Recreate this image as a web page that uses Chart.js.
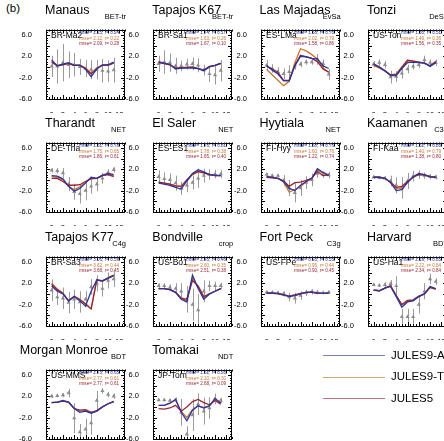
<!DOCTYPE html>
<html>
<head>
<meta charset="utf-8">
<script src="https://cdn.jsdelivr.net/npm/chart.js@4.4.1/dist/chart.umd.min.js"></script>
<style>
  body { margin: 0; background: #fff; width: 444px; height: 441px; overflow: hidden; position: relative;
         font-family: "Liberation Sans", Arial, sans-serif; }
  .panel { position: absolute; }
  .title { position: absolute; font-size: 12.5px; color: #000; white-space: nowrap; line-height: 1; }
  .pft { position: absolute; font-size: 7.5px; color: #000; white-space: nowrap; line-height: 1; text-align: right; }
  .leg { position: absolute; height: 0; border-top: 1px solid; }
  .legtxt { position: absolute; font-size: 11.5px; white-space: nowrap; line-height: 1; }
</style>
</head>
<body>
<div class="title" style="left:6px;top:3px;font-size:11.5px">(b)</div>

<script>
// months on the x axis, tick labels
const months = [0, 1, 2, 3, 4, 5, 6, 7, 8, 9, 10, 11];
const xTicks = [0, 2, 4, 6, 8, 10, 12];
const yTicks = [-6, -4, -2, 0, 2, 4, 6];

const siteNames = ['Manaus', 'Tapajos K67', 'Las Majadas', 'Tonzi', 'Tharandt', 'El Saler', 'Hyytiala', 'Kaamanen',
                   'Tapajos K77', 'Bondville', 'Fort Peck', 'Harvard', 'Morgan Monroe', 'Tomakai'];
const siteCodes = ['BR-Ma2', 'BR-Sa1', 'ES-LMa', 'US-Ton', 'DE-Tha', 'ES-ES1', 'FI-Hyy', 'FI-Kaa',
                   'BR-Sa3', 'US-Bo1', 'US-FPe', 'US-Ha1', 'US-MMS', 'JP-Tom'];
const sitePft = ['BET-tr', 'BET-tr', 'EvSa', 'DeSa', 'NET', 'NET', 'NET', 'C3g',
                 'C4g', 'crop', 'C3g', 'BDT', 'BDT', 'NDT'];
const modelNames = ['JULES9-AI', 'JULES9-TI', 'JULES5'];

// rmse / r text per site, in model order
const rmseAI = ['2.25', '1.74', '1.58', '1.30', '1.61', '1.76', '1.68', '1.52', '3.06', '2.45', '0.93', '2.19', '2.73', '1.62'];
const rmseTI = ['2.12', '1.63', '2.02', '1.49', '1.75', '1.78', '1.60', '1.40', '3.62', '2.60', '0.95', '2.22', '2.77', '2.10'];
const rmse5  = ['2.09', '1.67', '1.58', '1.56', '1.86', '1.65', '1.22', '1.38', '3.68', '2.51', '0.90', '2.34', '2.77', '2.68'];
const corrAI = ['0.24', '0.17', '0.70', '0.51', '0.78', '0.81', '0.76', '0.80', '0.59', '0.40', '0.55', '0.85', '0.65', '0.20'];
const corrTI = ['0.22', '0.26', '0.79', '0.36', '0.65', '0.38', '0.76', '0.79', '0.44', '0.35', '0.44', '0.84', '0.61', '0.30'];
const corr5  = ['0.28', '0.10', '0.86', '0.35', '0.61', '0.40', '0.74', '0.80', '0.45', '0.38', '0.45', '0.84', '0.61', '0.09'];

// Manaus
const manausAI  = [1.3, 0.2, 0.5, 0.8, 0.3, 0.3, -0.4, -1.8, -0.4, 0.4, 0.4, 0.9];
const manausTI  = [1.0, 0.3, 0.5, 0.7, 0.4, 0.4, -0.2, -1.2, -0.2, 0.4, 0.4, 0.8];
const manausJ5  = [0.9, 0.2, 0.4, 0.6, 0.3, 0.3, -0.3, -1.3, -0.3, 0.3, 0.3, 0.7];
const manausObs = [0.1, 0.1, 0.8, 0.4, 0.4, 0.0, -0.3, -0.5, -0.5, -0.7, -0.8, -0.6];
const manausErr = [2.0, 3.2, 3.5, 2.5, 2.2, 1.5, 1.6, 1.8, 1.8, 2.2, 2.0, 2.3];
// Tapajos K67
const k67AI  = [1.0, 0.7, 0.5, -0.4, -0.2, -0.2, -0.2, -0.3, -0.7, 0.0, 0.3, 0.7];
const k67TI  = [0.8, 0.6, 0.4, -0.3, -0.1, -0.1, -0.1, -0.3, -0.6, 0.0, 0.3, 0.6];
const k67J5  = [0.8, 0.6, 0.4, -0.2, -0.2, -0.1, 0.0, -0.3, -0.6, 0.1, 0.3, 0.6];
const k67Obs = [0.6, 0.9, 0.8, 0.2, 0.2, 0.5, 0.6, 0.3, -0.6, -1.3, -1.5, -0.7];
const k67Err = [1.5, 2.2, 1.7, 1.5, 1.0, 1.0, 1.2, 1.3, 1.0, 1.5, 1.8, 2.0];
// Las Majadas
const lmaAI  = [0.2, -0.6, -1.3, -2.6, -2.6, 0.2, 2.0, 1.9, 1.6, 1.5, 0.2, -0.3];
const lmaTI  = [-0.5, -1.5, -2.5, -3.5, -2.7, 0.8, 3.4, 3.0, 2.3, 1.5, -0.2, -1.0];
const lmaJ5  = [0.2, -0.4, -1.0, -2.5, -2.5, 0.3, 2.2, 1.9, 1.6, 1.0, -0.4, -1.0];
const lmaObs = [0.3, -0.3, -0.9, -1.3, -0.9, 0.3, 0.5, 0.9, 0.9, 1.4, 0.6, -1.4];
const lmaErr = [1.0, 0.8, 0.8, 1.0, 1.2, 0.8, 0.5, 0.5, 0.5, 1.0, 0.8, 1.0];
// Tonzi
const tonAI  = [0.6, 0.0, -0.7, -1.6, -1.6, -0.3, 0.8, 0.9, 0.8, 0.7, 0.1, 0.8];
const tonTI  = [0.3, -0.2, -0.8, -1.5, -1.3, 0.0, 1.3, 1.1, 0.9, 0.7, 0.2, 0.8];
const tonJ5  = [0.4, -0.1, -0.7, -1.5, -1.5, -0.1, 1.2, 1.1, 0.9, 0.7, 0.2, 1.0];
const tonObs = [0.5, 0.8, 0.4, -1.9, -1.8, -1.2, -0.4, 0.1, 0.4, 1.3, 0.8, 0.8];
const tonErr = [0.6, 0.6, 0.7, 1.2, 1.0, 1.0, 0.8, 0.6, 0.6, 0.8, 0.6, 0.6];
// Tharandt
const thaAI  = [0.8, 0.7, 0.2, -1.2, -2.1, -1.6, -0.6, 0.5, 0.3, 0.9, 1.2, 1.0];
const thaTI  = [0.6, 0.5, 0.0, -1.2, -1.8, -1.3, -0.4, 0.4, 0.3, 0.8, 1.1, 0.8];
const thaJ5  = [0.3, 0.3, -0.3, -1.0, -1.0, -0.9, -0.3, 0.2, 0.3, 0.8, 1.0, 0.6];
const thaObs = [1.8, 1.7, 1.3, -0.8, -2.2, -2.6, -2.0, -1.2, -0.8, 0.3, 1.4, 1.9];
const thaErr = [0.4, 0.5, 0.9, 1.3, 1.5, 1.8, 1.8, 1.4, 1.3, 1.0, 0.6, 0.5];
// El Saler
const es1AI  = [-0.6, -0.8, -1.0, -1.4, -1.7, -0.2, 1.2, 1.9, 1.5, 1.0, 0.9, 0.8];
const es1TI  = [-0.4, -0.6, -0.8, -1.1, -1.2, 0.0, 1.0, 1.5, 1.3, 1.0, 0.8, 0.8];
const es1J5  = [-0.4, -0.6, -0.8, -1.1, -1.2, 0.0, 1.1, 1.6, 1.3, 1.0, 0.8, 0.8];
const es1Obs = [0.6, 0.2, 0.0, -0.6, -1.6, -1.0, -0.5, 0.3, 0.8, 1.0, 1.1, 1.1];
const es1Err = [1.2, 1.2, 1.2, 1.4, 1.2, 1.3, 1.3, 1.8, 1.3, 1.0, 0.8, 0.8];
// Hyytiala
const hyyAI  = [0.5, 0.4, 0.3, -0.3, -1.6, -2.0, -1.0, -0.3, 0.3, 2.1, 1.4, 0.9];
const hyyTI  = [0.6, 0.5, 0.3, -0.4, -2.3, -1.8, -1.2, -0.4, 0.3, 1.9, 1.2, 0.9];
const hyyJ5  = [0.6, 0.5, 0.3, -0.2, -1.2, -0.5, -0.4, -0.1, 0.3, 1.6, 0.8, 0.9];
const hyyObs = [1.0, 0.8, 0.8, -0.1, -1.5, -2.4, -1.5, -0.5, 0.0, 1.2, 1.0, 0.9];
const hyyErr = [0.3, 0.3, 0.3, 1.0, 1.5, 1.8, 1.5, 1.2, 1.2, 0.8, 0.6, 0.6];
// Kaamanen
const kaaAI  = [0.5, 0.5, 0.3, -0.5, -2.0, -1.8, -0.5, 0.6, 1.2, 1.0, 0.6, 0.5];
const kaaTI  = [0.5, 0.5, 0.3, -0.5, -1.6, -1.5, -0.4, 0.6, 1.1, 0.9, 0.6, 0.5];
const kaaJ5  = [0.5, 0.5, 0.3, -0.4, -1.4, -1.2, -0.3, 0.5, 1.0, 0.9, 0.6, 0.5];
const kaaObs = [0.5, 0.4, 0.3, -0.2, -1.0, -1.5, -0.2, 0.7, 1.0, 0.8, 0.6, 0.5];
const kaaErr = [0.3, 0.3, 0.4, 1.0, 1.5, 2.0, 1.5, 1.0, 0.8, 0.6, 0.5, 0.4];
// Tapajos K77
const k77AI  = [1.5, 0.5, 0.0, -1.3, -0.5, -1.3, -2.3, 0.5, 2.6, 2.5, 2.9, 3.4];
const k77TI  = [2.0, 0.9, 0.2, -1.3, -0.4, -1.0, -1.8, -2.8, 2.7, 2.3, 3.0, 3.5];
const k77J5  = [1.8, 0.8, 0.1, -1.3, -0.5, -1.1, -1.9, -2.8, 2.6, 2.4, 3.0, 3.5];
const k77Obs = [0.7, -0.6, -0.8, -1.6, -1.0, -1.5, -1.0, 1.3, 2.0, 1.0, 2.5, 2.8];
const k77Err = [2.0, 1.5, 2.0, 2.0, 1.8, 2.0, 1.5, 1.5, 1.5, 1.5, 1.5, 1.5];
// Bondville
const bo1AI  = [1.0, 1.0, 0.8, 0.3, -1.0, -1.5, 3.5, 1.0, -1.0, 0.0, 0.5, 1.0];
const bo1TI  = [1.0, 1.0, 0.8, 0.3, -0.8, -1.2, 3.0, 1.2, -0.8, 0.0, 0.5, 1.0];
const bo1J5  = [1.0, 1.0, 0.8, 0.3, -0.8, -1.0, 2.5, 1.5, -0.5, 0.0, 0.5, 1.0];
const bo1Obs = [1.5, 1.5, 1.2, 1.0, 0.5, -1.0, -2.0, -3.0, 0.5, 1.5, 1.5, 1.5];
const bo1Err = [0.5, 0.5, 0.6, 1.0, 1.5, 2.5, 3.0, 3.0, 2.0, 1.0, 0.8, 0.6];
// Fort Peck
const fpeAI  = [0.2, 0.2, 0.1, -0.2, -0.5, -0.3, 0.0, 0.3, 0.4, 0.2, 0.1, 0.2];
const fpeTI  = [0.2, 0.2, 0.1, -0.1, -0.4, -0.2, 0.0, 0.3, 0.3, 0.2, 0.1, 0.2];
const fpeJ5  = [0.1, 0.1, 0.0, -0.2, -0.4, -0.2, 0.1, 0.3, 0.3, 0.1, 0.1, 0.1];
const fpeObs = [0.3, 0.3, 0.2, 0.0, -0.6, -0.8, -0.3, 0.2, 0.4, 0.3, 0.2, 0.3];
const fpeErr = [0.3, 0.3, 0.3, 0.5, 0.8, 1.0, 0.8, 0.6, 0.5, 0.4, 0.3, 0.3];
// Harvard
const ha1AI  = [0.7, 0.6, 1.1, 1.4, -0.5, -2.5, -1.5, -1.3, -0.5, 0.0, 1.4, 1.0];
const ha1TI  = [0.7, 0.6, 1.1, 1.5, -0.3, -2.1, -1.3, -1.2, -0.5, 0.0, 1.3, 0.9];
const ha1J5  = [0.7, 0.6, 1.1, 1.5, -0.3, -2.0, -1.2, -1.1, -0.4, 0.0, 1.2, 0.9];
const ha1Obs = [1.7, 1.6, 1.7, 1.9, 1.5, -4.3, -4.3, -4.3, -2.0, 0.5, 2.8, 2.3];
const ha1Err = [0.3, 0.3, 0.5, 0.7, 1.8, 1.5, 1.5, 1.5, 1.7, 1.5, 1.0, 0.6];
// Morgan Monroe
const mmsAI  = [0.8, 0.9, 1.2, 0.9, -0.3, -1.0, -0.8, -1.2, -0.8, 0.0, 0.6, 1.0];
const mmsTI  = [0.8, 0.9, 1.1, 0.9, -0.3, -0.8, -0.7, -1.1, -0.8, 0.0, 0.6, 1.0];
const mmsJ5  = [0.8, 0.9, 1.1, 0.9, -0.3, -0.6, -0.5, -1.0, -0.7, 0.0, 0.6, 1.0];
const mmsObs = [2.0, 2.1, 2.2, 2.6, -2.1, -4.7, -4.2, -3.0, 1.2, 3.0, 2.3, 2.0];
const mmsErr = [0.3, 0.3, 0.4, 0.8, 2.8, 1.5, 2.0, 2.2, 1.8, 0.5, 0.5, 0.5];
// Tomakai
const tomAI  = [0.3, 0.3, 0.7, 1.4, -1.0, -2.6, -0.6, 0.2, -0.2, 0.2, 1.6, 0.7];
const tomTI  = [0.3, 0.3, 0.7, 1.3, -0.8, -2.0, -0.5, 0.2, -0.1, 0.2, 1.4, 0.8];
const tomJ5  = [-0.3, -0.4, -0.2, 0.3, -0.8, 0.0, 1.0, 1.4, 0.8, 0.4, 1.2, 0.5];
const tomObs = [1.3, 1.3, 1.2, 1.3, -1.0, -5.1, -1.5, 0.5, -0.8, -0.2, 1.5, 1.2];
const tomErr = [0.2, 0.2, 0.3, 0.5, 2.5, 1.5, 3.0, 2.0, 2.5, 2.0, 1.0, 0.5];

const seriesAI  = [manausAI, k67AI, lmaAI, tonAI, thaAI, es1AI, hyyAI, kaaAI, k77AI, bo1AI, fpeAI, ha1AI, mmsAI, tomAI];
const seriesTI  = [manausTI, k67TI, lmaTI, tonTI, thaTI, es1TI, hyyTI, kaaTI, k77TI, bo1TI, fpeTI, ha1TI, mmsTI, tomTI];
const series5   = [manausJ5, k67J5, lmaJ5, tonJ5, thaJ5, es1J5, hyyJ5, kaaJ5, k77J5, bo1J5, fpeJ5, ha1J5, mmsJ5, tomJ5];
const seriesObs = [manausObs, k67Obs, lmaObs, tonObs, thaObs, es1Obs, hyyObs, kaaObs, k77Obs, bo1Obs, fpeObs, ha1Obs, mmsObs, tomObs];
const seriesErr = [manausErr, k67Err, lmaErr, tonErr, thaErr, es1Err, hyyErr, kaaErr, k77Err, bo1Err, fpeErr, ha1Err, mmsErr, tomErr];

const colAI = '#2b35a0';
const colTI = '#c8772e';
const col5  = '#9a2435';
const colObs = '#8c8c8c';

Chart.defaults.font.family = '"Liberation Sans", Arial, sans-serif';
Chart.defaults.color = '#000';

// frame, inward ticks, error bars and the text in the box
const panelDecor = {
  id: 'panelDecor',
  beforeDatasetsDraw(chart, args, opts) {
    const ctx = chart.ctx, xs = chart.scales.x, ys = chart.scales.y, a = chart.chartArea;
    ctx.save();
    ctx.beginPath();
    ctx.rect(a.left, a.top, a.right - a.left, a.bottom - a.top);
    ctx.clip();
    ctx.strokeStyle = '#9a9a9a';
    ctx.lineWidth = 1;
    opts.obs.forEach((v, k) => {
      const px = Math.round(xs.getPixelForValue(months[k])) + 0.5;
      ctx.beginPath();
      ctx.moveTo(px, ys.getPixelForValue(v - opts.err[k]));
      ctx.lineTo(px, ys.getPixelForValue(v + opts.err[k]));
      ctx.stroke();
    });
    ctx.restore();
  },
  afterDraw(chart, args, opts) {
    const ctx = chart.ctx, xs = chart.scales.x, ys = chart.scales.y, a = chart.chartArea;
    ctx.save();
    ctx.strokeStyle = '#000';
    ctx.lineWidth = 1;
    ctx.strokeRect(Math.round(a.left) + 0.5, Math.round(a.top) + 0.5,
                   Math.round(a.right - a.left) - 1, Math.round(a.bottom - a.top) - 1);
    ctx.beginPath();
    for (let v = -1; v <= 13; v += 0.5) {
      const px = Math.round(xs.getPixelForValue(v)) + 0.5;
      const len = xTicks.includes(v) ? 4 : 2;
      ctx.moveTo(px, a.bottom); ctx.lineTo(px, a.bottom - len);
      ctx.moveTo(px, a.top); ctx.lineTo(px, a.top + len);
    }
    for (let v = -6; v <= 7; v += 0.5) {
      const py = Math.round(ys.getPixelForValue(v)) + 0.5;
      const len = yTicks.includes(v) ? 4 : 2;
      ctx.moveTo(a.left, py); ctx.lineTo(a.left + len, py);
      ctx.moveTo(a.right, py); ctx.lineTo(a.right - len, py);
    }
    ctx.stroke();
    ctx.fillStyle = '#000';
    ctx.textBaseline = 'middle';
    ctx.font = '8.5px "Liberation Sans", Arial, sans-serif';
    ctx.fillText(opts.code, a.left + 5, a.top + 6);
    ctx.font = '4.6px "Liberation Sans", Arial, sans-serif';
    opts.stats.forEach((s, k) => {
      ctx.fillStyle = [colAI, colTI, col5][k];
      ctx.fillText(s, a.left + 33, a.top + 3.5 + k * 5.5);
    });
    ctx.restore();
  }
};

const boxW = 79, boxH = 78, padL = 28, padB = 14;

siteNames.forEach((name, i) => {
  const col = i % 4, row = Math.floor(i / 4);
  const boxL = 46 + 107.3 * col, boxT = 21 + 113.3 * row;

  const wrap = document.createElement('div');
  wrap.className = 'panel';
  wrap.style.left = (boxL - padL) + 'px';
  wrap.style.top = (boxT - 2) + 'px';
  wrap.style.width = (boxW + padL + 4) + 'px';
  wrap.style.height = (boxH + 2 + padB) + 'px';
  const cv = document.createElement('canvas');
  wrap.appendChild(cv);
  document.body.appendChild(wrap);

  // type label, right-aligned at the box's right edge
  const p = document.createElement('div');
  p.className = 'pft';
  p.textContent = sitePft[i];
  p.style.left = (boxL + boxW + 1 - 54) + 'px';
  p.style.width = '54px';
  p.style.top = (boxT - 8) + 'px';
  document.body.appendChild(p);

  // a title wider than the box starts further left
  const t = document.createElement('div');
  t.className = 'title';
  t.textContent = name;
  document.body.appendChild(t);
  const tw = t.getBoundingClientRect().width;
  const shift = tw > boxW ? boxW - 16 - tw : 0;
  t.style.left = (boxL - 1 + shift) + 'px';
  t.style.top = (boxT - 17) + 'px';

  const pts = arr => months.map((m, k) => ({ x: m, y: arr[k] }));
  const line = (label, arr, color, order) => ({
    label, data: pts(arr), borderColor: color, borderWidth: 1.3, pointRadius: 0,
    tension: 0, fill: false, order
  });

  new Chart(cv, {
    type: 'line',
    data: {
      datasets: [
        line(modelNames[0], seriesAI[i], colAI, 1),
        line(modelNames[1], seriesTI[i], colTI, 3),
        line(modelNames[2], series5[i], col5, 2),
        {
          label: 'obs', data: pts(seriesObs[i]), showLine: false, pointStyle: 'triangle',
          pointRadius: 2.4, backgroundColor: colObs, borderColor: colObs, borderWidth: 0, order: 4
        }
      ]
    },
    options: {
      animation: false,
      responsive: true,
      maintainAspectRatio: false,
      layout: { padding: { left: 0, top: 2, right: 4, bottom: 0 } },
      plugins: {
        legend: { display: false },
        tooltip: { enabled: false },
        panelDecor: {
          obs: seriesObs[i], err: seriesErr[i], code: siteCodes[i],
          stats: [
            'rmse= ' + rmseAI[i] + ', r= ' + corrAI[i],
            'rmse= ' + rmseTI[i] + ', r= ' + corrTI[i],
            'rmse= ' + rmse5[i] + ', r= ' + corr5[i]
          ]
        }
      },
      scales: {
        x: {
          type: 'linear', min: -1, max: 13,
          grid: { display: false }, border: { display: false },
          afterBuildTicks: s => { s.ticks = xTicks.map(v => ({ value: v })); },
          afterFit: s => { s.height = padB; },
          ticks: { font: { size: 7.5 }, padding: 3, maxRotation: 0, autoSkip: false }
        },
        y: {
          min: -6, max: 7,
          grid: { display: false }, border: { display: false },
          afterBuildTicks: s => { s.ticks = yTicks.map(v => ({ value: v })); },
          afterFit: s => { s.width = padL; },
          ticks: { font: { size: 7.5 }, padding: 6, callback: v => v.toFixed(1) }
        }
      }
    },
    plugins: [panelDecor]
  });
});

// legend at lower right
const legColors = ['#7d7fbf', '#d2a676', '#c07482'];
modelNames.forEach((m, k) => {
  const l = document.createElement('div');
  l.className = 'leg';
  l.style.left = '323px';
  l.style.width = '62px';
  l.style.top = (355 + 21.5 * k) + 'px';
  l.style.borderColor = legColors[k];
  document.body.appendChild(l);
  const tx = document.createElement('div');
  tx.className = 'legtxt';
  tx.textContent = m;
  tx.style.left = '391px';
  tx.style.top = (349.5 + 21.5 * k) + 'px';
  document.body.appendChild(tx);
});
</script>
</body>
</html>
